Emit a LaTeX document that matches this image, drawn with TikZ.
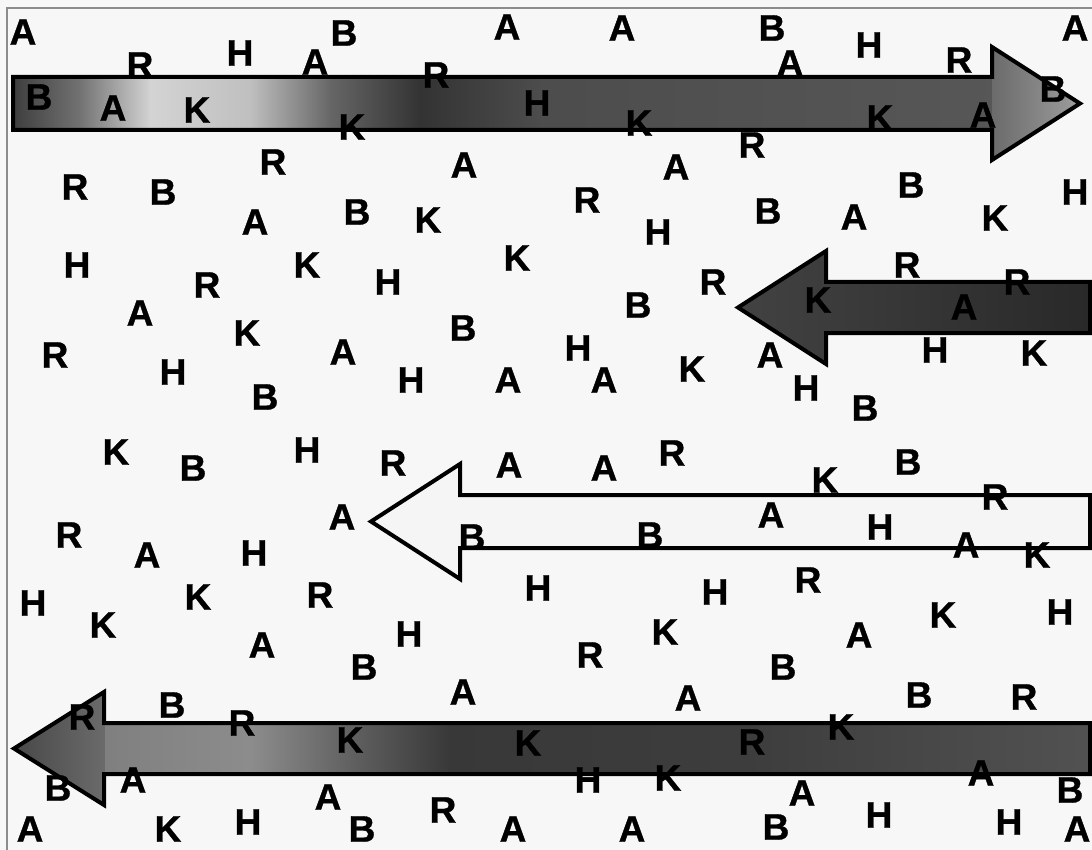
\documentclass[tikz,border=0pt]{standalone}
\usepackage{fontspec}
\setmainfont{Liberation Sans}[BoldFeatures={FakeBold=0.9}]
\begin{document}
\begin{tikzpicture}[x=1pt,y=-1pt,
  glyph/.style={font=\fontsize{37}{37}\selectfont\bfseries, inner sep=0pt, text=black},
  arrowline/.style={draw=black, line width=4pt, line join=miter}]
\useasboundingbox (0,0) rectangle (1092,850);
\fill[black!3] (0,0) rectangle (1092,850);
\draw[black!45, line width=1.5pt] (7,850) -- (7,8) -- (1092,8);

% top arrow, pointing right, shaded along its length
\begin{scope}
  \clip (13,77) -- (992,77) -- (992,47) -- (1080,103.5) -- (992,160) -- (992,130) -- (13,130) -- cycle;
  \shade[left color=black!76, right color=black!55] (12,40) rectangle (81,170);
  \shade[left color=black!55, right color=black!17] (80,40) rectangle (151,170);
  \shade[left color=black!17, right color=black!25] (150,40) rectangle (251,170);
  \shade[left color=black!25, right color=black!60] (250,40) rectangle (331,170);
  \shade[left color=black!60, right color=black!80] (330,40) rectangle (421,170);
  \shade[left color=black!80, right color=black!70] (420,40) rectangle (541,170);
  \shade[left color=black!70, right color=black!66] (540,40) rectangle (993,170);
  \shade[left color=black!58, right color=black!38] (992,40) rectangle (1082,170);
\end{scope}
\draw[arrowline] (13,77) -- (992,77) -- (992,47) -- (1080,103.5) -- (992,160) -- (992,130) -- (13,130) -- cycle;

% second arrow, pointing left, dark
\begin{scope}
  \clip (1090,282) -- (826,282) -- (826,251) -- (738,307.5) -- (826,364) -- (826,333) -- (1090,333) -- cycle;
  \shade[left color=black!74, right color=black!84] (736,245) rectangle (1092,370);
\end{scope}
\draw[arrowline] (1090,282) -- (826,282) -- (826,251) -- (738,307.5) -- (826,364) -- (826,333) -- (1090,333) -- cycle;

% third arrow, pointing left, open
\draw[arrowline, fill=black!4] (1090,495) -- (460,495) -- (460,464) -- (371,521.5) -- (460,579) -- (460,548) -- (1090,548) -- cycle;

% bottom arrow, pointing left, shaded along its length
\begin{scope}
  \clip (1090,723) -- (104,723) -- (104,692) -- (14,748.5) -- (104,805) -- (104,774) -- (1090,774) -- cycle;
  \shade[left color=black!72, right color=black!58] (12,685) rectangle (106,810);
  \shade[left color=black!50, right color=black!45] (105,685) rectangle (251,810);
  \shade[left color=black!45, right color=black!62] (250,685) rectangle (351,810);
  \shade[left color=black!62, right color=black!78] (350,685) rectangle (451,810);
  \shade[left color=black!78, right color=black!76] (450,685) rectangle (751,810);
  \shade[left color=black!76, right color=black!68] (750,685) rectangle (1092,810);
\end{scope}
\draw[arrowline] (1090,723) -- (104,723) -- (104,692) -- (14,748.5) -- (104,805) -- (104,774) -- (1090,774) -- cycle;

% scattered letters
\foreach \t/\x/\y [count=\i] in {
  A/23/32, R/140/65, H/240/53, A/315/62, B/344/33, R/436/75, A/507/27, A/622/28,
  B/772/28, A/790/63, H/869/45, R/959/60, A/1075/28,
  B/39/97, A/113/108, K/197/110, K/352/127, H/537/103, K/639/123, K/880/118,
  A/983/115, B/1053/89,
  R/273/162, A/464/165, R/752/145, A/676/167, R/75/187, B/163/192, B/911/185,
  H/1075/192, R/587/200, A/255/222, B/357/212, K/428/220, B/768/211, A/854/217,
  K/995/218, H/658/232,
  H/77/265, K/307/265, K/517/258, R/207/285, H/388/282, R/713/282, R/907/265,
  R/1017/282, B/638/305, A/140/313, K/818/300, A/964/307, K/247/333, B/463/328,
  A/343/352, R/55/355, H/578/348, A/770/355, H/935/350, K/1034/353, H/173/372,
  H/411/380, A/508/380, A/604/380, K/692/369, H/806/388, B/265/397, B/865/408,
  K/116/452, B/193/468, H/307/450, R/393/463, A/509/465, A/604/468, R/672/453,
  K/825/480, B/908/462, R/995/497, A/342/517, B/472/537, B/650/535, A/771/515,
  H/880/527, A/966/545, K/1037/555, R/69/535, A/147/555, H/254/553,
  H/33/603, K/103/625, K/198/597, R/320/595, H/538/588, H/715/592, R/808/580,
  K/943/615, H/1060/612, A/262/645, H/409/634, K/665/632, R/590/655, A/859/635,
  B/364/667, B/783/667, A/463/692, A/688/698, B/919/695, R/1024/697, B/172/705,
  R/82/717, R/242/723, K/350/740, K/528/743, R/752/742, K/841/727, A/133/780,
  B/58/788, H/588/780, K/668/778, A/802/793, A/981/773, B/1070/790,
  A/30/829, K/168/829, H/248/822, A/328/797, B/362/829, R/443/810, A/513/829,
  A/632/829, B/776/827, H/879/815, H/1009/822, A/1077/829}
  \node[glyph] (l\i) at (\x,\y) {\t};
\end{tikzpicture}
\end{document}
